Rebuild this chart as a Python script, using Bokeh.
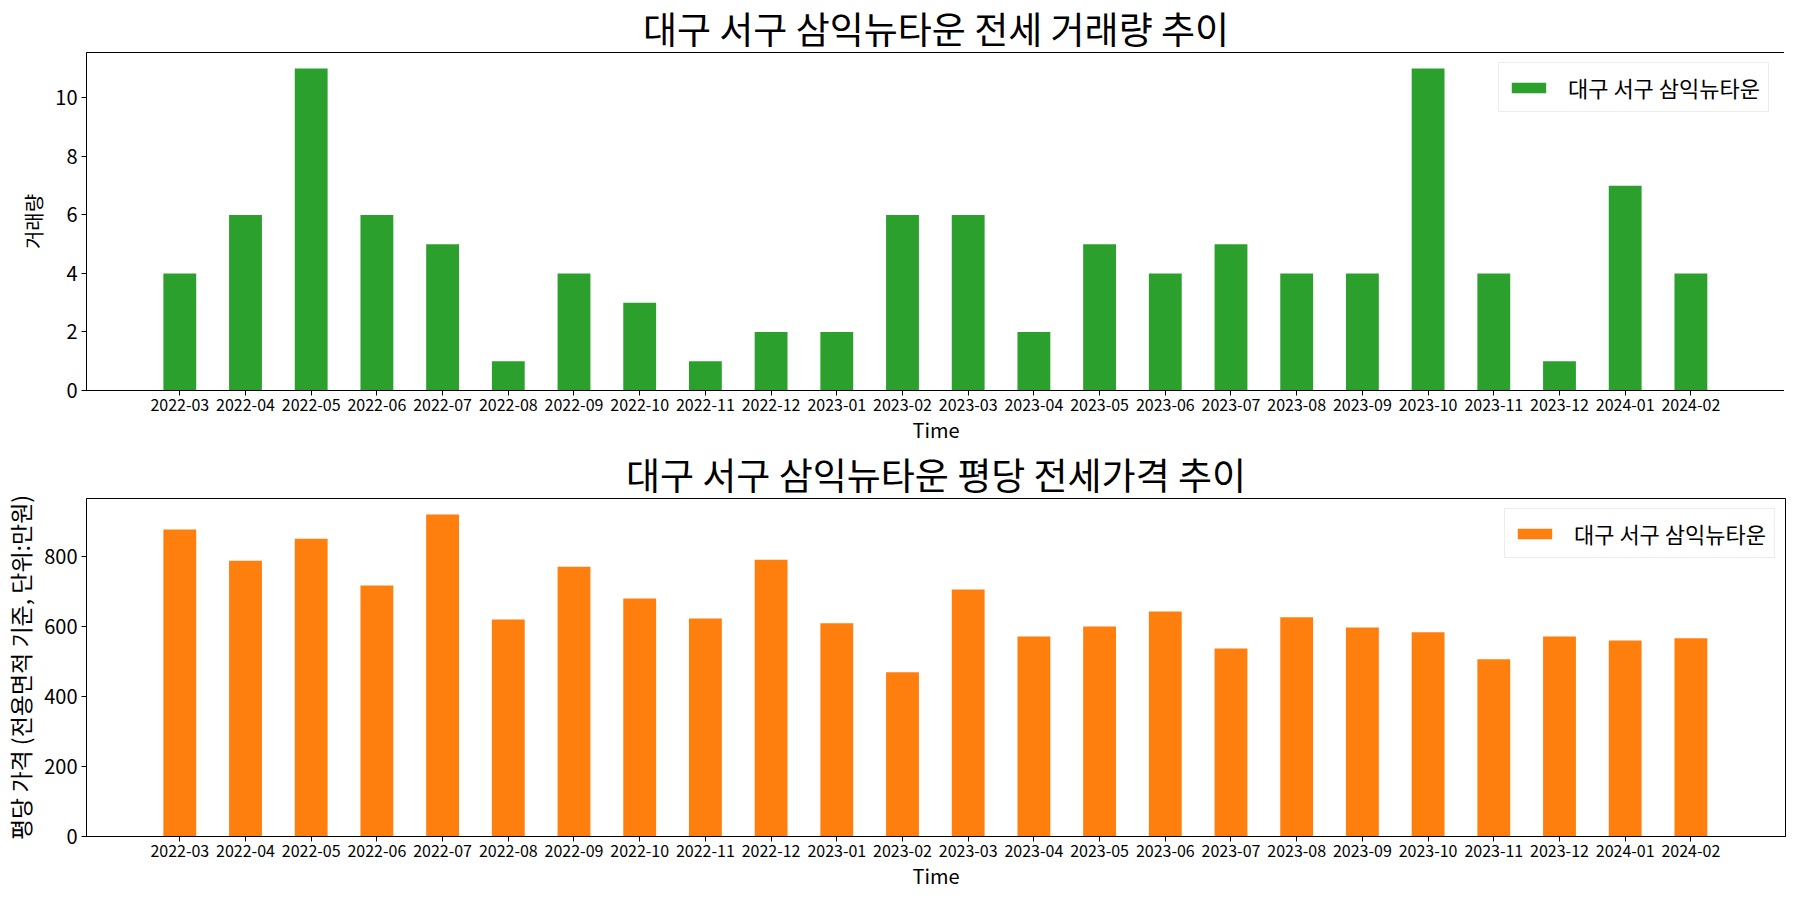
from bokeh.plotting import figure
from bokeh.layouts import column
from bokeh.models import Range1d, FixedTicker, ColumnDataSource
from bokeh.embed import file_html
from bokeh.resources import INLINE

months = ["2022-03", "2022-04", "2022-05", "2022-06", "2022-07", "2022-08",
          "2022-09", "2022-10", "2022-11", "2022-12", "2023-01", "2023-02",
          "2023-03", "2023-04", "2023-05", "2023-06", "2023-07", "2023-08",
          "2023-09", "2023-10", "2023-11", "2023-12", "2024-01", "2024-02"]
volume = [4, 6, 11, 6, 5, 1, 4, 3, 1, 2, 2, 6, 6, 2, 5, 4, 5, 4, 4, 11, 4, 1, 7, 4]
price = [878, 789, 852, 718, 921, 621, 772, 681, 624, 792, 610, 470,
         707, 572, 601, 644, 538, 627, 598, 584, 507, 572, 561, 567]

series_name = "대구 서구 삼익뉴타운"
title1 = "대구 서구 삼익뉴타운 전세 거래량 추이"
title2 = "대구 서구 삼익뉴타운 평당 전세가격 추이"
ylabel1 = "거래량"
ylabel2 = "평당 가격 (전용면적 기준, 단위:만원)"
xlabel = "Time"

FONT = "Noto Sans CJK KR"
idx = list(range(len(months)))
FW, FH = 1699, 338


def make_fig(values, color, title, ylabel, ylabel_size, ymax, yticks, top_border, bottom_border):
    src = ColumnDataSource(dict(x=idx, y=values))
    p = figure(frame_width=FW, frame_height=FH,
               x_range=Range1d(-1.42, 24.44), y_range=Range1d(0, ymax),
               output_backend="svg", toolbar_location=None,
               min_border_left=79, min_border_right=6,
               min_border_top=top_border, min_border_bottom=bottom_border)
    p.vbar(x="x", top="y", width=0.5, source=src, fill_color=color,
           line_color=None, legend_label=series_name)
    p.title.text = title
    p.title.text_font = FONT
    p.title.text_font_size = "37px"
    p.title.text_font_style = "normal"
    p.title.text_color = "black"
    p.title.text_line_height = 1.0
    p.title.align = "center"
    p.title.standoff = -4
    p.title.offset = 0
    p.grid.visible = False
    p.outline_line_color = "black"
    p.outline_line_width = 1
    p.outline_line_alpha = 1

    xa = p.xaxis[0]
    xa.ticker = FixedTicker(ticks=idx)
    xa.major_label_overrides = {i: m for i, m in enumerate(months)}
    xa.major_label_text_font = FONT
    xa.major_label_text_font_size = "16px"
    xa.major_label_text_color = "black"
    xa.major_label_standoff = 3
    xa.axis_label = xlabel
    xa.axis_label_text_font = FONT
    xa.axis_label_text_font_size = "20px"
    xa.axis_label_text_font_style = "normal"
    xa.axis_label_text_color = "black"
    xa.axis_label_standoff = 1
    xa.major_tick_out = 5
    xa.major_tick_in = 0
    xa.minor_tick_out = 0
    xa.minor_tick_in = 0
    xa.axis_line_color = "black"

    ya = p.yaxis[0]
    ya.ticker = FixedTicker(ticks=yticks)
    ya.major_label_text_font = FONT
    ya.major_label_text_font_size = "20px"
    ya.major_label_text_color = "black"
    ya.major_label_standoff = 4
    ya.axis_label = ylabel
    ya.axis_label_text_font = FONT
    ya.axis_label_text_font_size = ylabel_size
    ya.axis_label_text_font_style = "normal"
    ya.axis_label_text_color = "black"
    ya.axis_label_standoff = 4
    ya.major_tick_out = 5
    ya.major_tick_in = 0
    ya.minor_tick_out = 0
    ya.minor_tick_in = 0
    ya.axis_line_color = "black"

    lg = p.legend[0]
    lg.location = "top_right"
    lg.margin = 10
    lg.padding = 8
    lg.label_text_font = FONT
    lg.label_text_font_size = "22px"
    lg.label_text_color = "black"
    lg.glyph_width = 43
    lg.glyph_height = 13
    lg.label_standoff = 18
    lg.border_line_color = "#d9d9d9"
    lg.border_line_width = 1
    lg.background_fill_alpha = 0.9
    return p


p1 = make_fig(volume, "#2ca02c", title1, ylabel1, "20px", 11.55, [0, 2, 4, 6, 8, 10], 51, 48)
p2 = make_fig(price, "#ff7f0e", title2, ylabel2, "23px", 967, [0, 200, 400, 600, 800], 51, 58)

layout = column(p1, p2, spacing=0)
open("out.html", "w").write(file_html(layout, INLINE))
